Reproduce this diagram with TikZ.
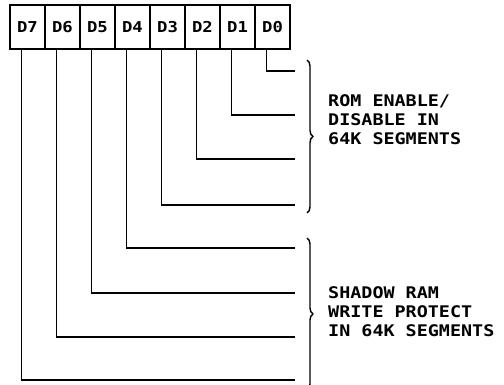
\documentclass[tikz,border=0pt]{standalone}
\usepackage{fontspec}
\newfontfamily\plotfont[FakeStretch=1.15]{DejaVu Sans Mono}
\usetikzlibrary{decorations.pathreplacing}
\begin{document}
\begin{tikzpicture}[x=1pt,y=-1pt,
			bit/.style={
				draw=black,
				line width=1.4pt,
				minimum width=35pt,
				minimum height=44pt,
				inner sep=0pt,
				font=\plotfont\bfseries\fontsize{15}{15}\selectfont
			},
			wire/.style={line width=1.4pt},
			grp/.style={line width=1.4pt, decorate, decoration={brace,amplitude=6pt}},
			note/.style={anchor=west, align=left, inner sep=0pt,
				font=\plotfont\bfseries\fontsize{16}{19}\selectfont}
			]
			\useasboundingbox (0,0) rectangle (504,385);
			%---------------- BITS ----------------
			\node[bit] (d7) at (27.5,27) {D7};
			\node[bit] (d6) at (62.5,27) {D6};
			\node[bit] (d5) at (97.5,27) {D5};
			\node[bit] (d4) at (132.5,27) {D4};
			\node[bit] (d3) at (167.5,27) {D3};
			\node[bit] (d2) at (202.5,27) {D2};
			\node[bit] (d1) at (237.5,27) {D1};
			\node[bit] (d0) at (272.5,27) {D0};
			%---------------- WIRES ----------------
			\coordinate (e0) at (295,71);
			\coordinate (e1) at (295,115);
			\coordinate (e2) at (295,159);
			\coordinate (e3) at (295,205);
			\coordinate (e4) at (295,248);
			\coordinate (e5) at (295,293);
			\coordinate (e6) at (295,337);
			\coordinate (e7) at (295,380);
			\draw[wire] ([xshift=12pt]d0.south west) |- (e0);
			\draw[wire] ([xshift=12pt]d1.south west) |- (e1);
			\draw[wire] ([xshift=12pt]d2.south west) |- (e2);
			\draw[wire] ([xshift=12pt]d3.south west) |- (e3);
			\draw[wire] ([xshift=12pt]d4.south west) |- (e4);
			\draw[wire] ([xshift=12pt]d5.south west) |- (e5);
			\draw[wire] ([xshift=12pt]d6.south west) |- (e6);
			\draw[wire] ([xshift=12pt]d7.south west) |- (e7);
			%---------------- GROUPS ----------------
			\draw[grp] (307,60) -- (307,213);
			\node[note] (rom) at (328,120) {ROM ENABLE/\\DISABLE IN\\64K SEGMENTS};
			\draw[grp] (307,238) -- (307,390);
			\node[note] (ram) at (328,312) {SHADOW RAM\\WRITE PROTECT\\IN 64K SEGMENTS};
		\end{tikzpicture}
\end{document}
